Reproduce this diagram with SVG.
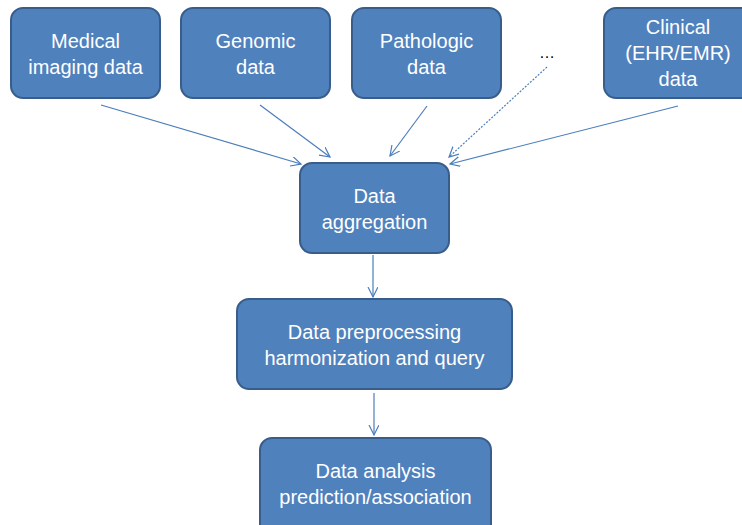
<svg xmlns="http://www.w3.org/2000/svg" width="742" height="525" viewBox="0 0 742 525">
<style>
.box{fill:#4f81bd;stroke:#385d8a;stroke-width:2}
.t{font-family:"Liberation Sans",Arial,sans-serif;font-size:20px;fill:#ffffff;text-anchor:middle}
.c{fill:none;stroke:#4a7ebb;stroke-width:1.2}
.d{stroke-dasharray:2 1.5}
</style>
<defs>
<marker id="ah" markerWidth="14" markerHeight="14" refX="10" refY="5" orient="auto" markerUnits="userSpaceOnUse">
<path d="M0,0 L10,5 L0,10" fill="none" stroke="#4a7ebb" stroke-width="1.2"/>
</marker>
</defs>
<rect width="742" height="525" fill="#ffffff"/>
<g id="connectors">
<line class="c" x1="101" y1="105" x2="301" y2="164" marker-end="url(#ah)"/>
<line class="c" x1="260" y1="105" x2="330" y2="157" marker-end="url(#ah)"/>
<line class="c" x1="427" y1="106" x2="390" y2="156" marker-end="url(#ah)"/>
<line class="c d" x1="547" y1="67" x2="449" y2="157" marker-end="url(#ah)"/>
<line class="c" x1="678" y1="106" x2="450" y2="164" marker-end="url(#ah)"/>
<line class="c" x1="373" y1="255" x2="373" y2="297" marker-end="url(#ah)"/>
<line class="c" x1="374" y1="393" x2="374" y2="435" marker-end="url(#ah)"/>
</g>
<g id="medical">
<rect class="box" x="11" y="8" width="149" height="90" rx="12"/>
<text class="t" x="85.5" y="48">Medical</text>
<text class="t" x="85.5" y="74">imaging data</text>
</g>
<g id="genomic">
<rect class="box" x="181" y="8" width="149" height="90" rx="12"/>
<text class="t" x="255.5" y="48">Genomic</text>
<text class="t" x="255.5" y="74">data</text>
</g>
<g id="pathologic">
<rect class="box" x="352" y="8" width="149" height="90" rx="12"/>
<text class="t" x="426.5" y="48">Pathologic</text>
<text class="t" x="426.5" y="74">data</text>
</g>
<g id="more">
<text x="547" y="58" font-family="Liberation Sans,Arial,sans-serif" font-size="16" fill="#000000" text-anchor="middle">…</text>
</g>
<g id="clinical">
<rect class="box" x="604" y="8" width="149" height="90" rx="12"/>
<text class="t" x="678" y="34">Clinical</text>
<text class="t" x="678" y="60">(EHR/EMR)</text>
<text class="t" x="678" y="86">data</text>
</g>
<g id="aggregation">
<rect class="box" x="300" y="163" width="149" height="90" rx="12"/>
<text class="t" x="374.5" y="203">Data</text>
<text class="t" x="374.5" y="229">aggregation</text>
</g>
<g id="preprocessing">
<rect class="box" x="237" y="299" width="275" height="90" rx="12"/>
<text class="t" x="374.5" y="339">Data preprocessing</text>
<text class="t" x="374.5" y="365">harmonization and query</text>
</g>
<g id="analysis">
<rect class="box" x="260" y="438" width="231" height="100" rx="12"/>
<text class="t" x="375.5" y="478">Data analysis</text>
<text class="t" x="375.5" y="504">prediction/association</text>
</g>
</svg>
